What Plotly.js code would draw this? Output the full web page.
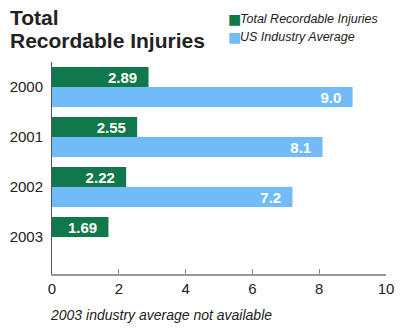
<!DOCTYPE html>
<html><head><meta charset="utf-8">
<script src="https://cdn.plot.ly/plotly-3.0.1.min.js"></script>
<style>html,body{margin:0;padding:0;background:#fff}#c{width:401px;height:329px}</style>
</head><body><div id="c"></div>
<script>
const years = ['2000', '2001', '2002', '2003'];
const trirValues = [2.89, 2.55, 2.22, 1.69];
const industryYears = ['2000', '2001', '2002'];
const industryValues = [9.0, 8.1, 7.2];
const xTicks = [0, 2, 4, 6, 8, 10];
const seriesNames = ['Total Recordable Injuries', 'US Industry Average'];
const seriesColors = ['#10784a', '#70bbf8'];

const FONT = 'Liberation Sans, Arial, sans-serif';
const NB = '\u00a0\u00a0';
const data = [
  {type:'bar', orientation:'h', name:seriesNames[0], y:years, x:trirValues,
   marker:{color:seriesColors[0]}, texttemplate:'%{x:.2f}' + NB, textposition:'inside', insidetextanchor:'end',
   constraintext:'none', cliponaxis:false,
   textfont:{family:FONT, size:15, color:'#fff', weight:'bold'}, hoverinfo:'none'},
  {type:'bar', orientation:'h', name:seriesNames[1], y:industryYears, x:industryValues,
   marker:{color:seriesColors[1]}, texttemplate:'%{x:.1f}' + NB, textposition:'inside', insidetextanchor:'end',
   constraintext:'none', cliponaxis:false,
   textfont:{family:FONT, size:15, color:'#fff', weight:'bold'}, hoverinfo:'none'}
];
const PH = 212; // plot height in px, for paper placement of texts
const py = px => (274 - px) / PH;
const px2 = x => (x - 52) / 334;
const legendRows = [19, 37];
const legendAnn = [];
seriesNames.forEach((n, i) => {
  legendAnn.push({text:'■', xref:'paper', yref:'paper', x:px2(226), y:py(legendRows[i]), xanchor:'left', yanchor:'middle',
    showarrow:false, font:{family:'DejaVu Sans', size:14, color:seriesColors[i]}});
  legendAnn.push({text:'<i>' + n + '</i>', xref:'paper', yref:'paper', x:px2(238), y:py(legendRows[i]), xanchor:'left', yanchor:'middle',
    showarrow:false, font:{family:FONT, size:12.5, color:'#222'}});
});
const layout = {
  width:401, height:329,
  margin:{l:52, r:15, t:62, b:55, autoexpand:false},
  paper_bgcolor:'#fff', plot_bgcolor:'#fff',
  barmode:'group', bargap:0.2, bargroupgap:0,
  uniformtext:{mode:false},
  font:{family:FONT, color:'#222'},
  showlegend:false,
  xaxis:{range:[0,10], tickvals:xTicks, ticks:'inside', ticklen:5, tickcolor:'#888', tickwidth:1,
         showline:true, linecolor:'#999', linewidth:1.5, showgrid:false, zeroline:false,
         tickfont:{family:FONT, size:15, color:'#222'}, fixedrange:true},
  yaxis:{type:'category', range:[3.74,-0.5], showline:true, linecolor:'#555', linewidth:1,
         ticks:'', showgrid:false, zeroline:false, tickfont:{family:FONT, size:15, color:'#222'},
         ticklabelstandoff:5, fixedrange:true},
  annotations:[
    {text:'<b>Total</b>', xref:'paper', yref:'paper', x:px2(8), y:py(17), xanchor:'left', yanchor:'middle',
     showarrow:false, font:{family:FONT, size:21, color:'#222'}},
    {text:'<b>Recordable Injuries</b>', xref:'paper', yref:'paper', x:px2(8), y:py(41), xanchor:'left', yanchor:'middle',
     showarrow:false, font:{family:FONT, size:21, color:'#222'}},
    ...legendAnn,
    {text:'<i>2003 industry average not available</i>', xref:'paper', yref:'paper',
     x:px2(48), y:py(315), xanchor:'left', yanchor:'middle', showarrow:false,
     font:{family:FONT, size:14, color:'#222'}}
  ]
};
Plotly.newPlot('c', data, layout, {displayModeBar:false, staticPlot:true});
</script></body></html>
